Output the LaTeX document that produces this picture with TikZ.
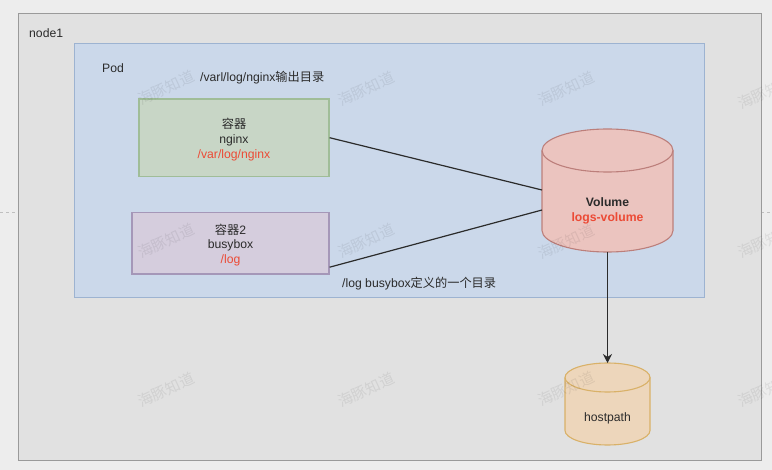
\documentclass[tikz,border=0pt]{standalone}
\usepackage{fontspec}
\setmainfont{Liberation Sans}
\newfontfamily\cjk{Noto Sans CJK SC}
\usepackage{xcolor}
\usetikzlibrary{shapes,shapes.geometric,arrows.meta}
\definecolor{pagebg}{HTML}{EDEDED}
\definecolor{nodefill}{HTML}{E1E1E1}
\definecolor{nodeline}{HTML}{9A9A9A}
\definecolor{podfill}{HTML}{CBD8EA}
\definecolor{podline}{HTML}{9DB3D1}
\definecolor{greenfill}{HTML}{C8D6C6}
\definecolor{greenline}{HTML}{A0BD98}
\definecolor{purplefill}{HTML}{D5CDDD}
\definecolor{purpleline}{HTML}{A597B8}
\definecolor{redfill}{HTML}{EBC4BF}
\definecolor{redline}{HTML}{BC7F7B}
\definecolor{orangefill}{HTML}{EDD6BB}
\definecolor{orangeline}{HTML}{D9B168}
\definecolor{pathred}{HTML}{EC4A35}
\definecolor{txt}{HTML}{2B2B2B}

\begin{document}
\begin{tikzpicture}[
	x=1pt, y=-1pt,
	txtfont/.style={font=\fontsize{12.2}{14.7}\selectfont, text=txt, inner sep=0, align=center},
	frame/.style={draw=#1, line width=1.4, anchor=north west, inner sep=0},
	textbox/.style={txtfont, draw=#1, line width=1.2},
	store/.style={draw=#1, line width=1.1},
	wmark/.style={font=\cjk\fontsize{15}{15}\selectfont, text=black, rotate=25, inner sep=0, opacity=0.07},
	margin/.style={draw=black!25, dashed, line width=0.8}
]
\fill[pagebg] (0,0) rectangle (772,470);
\useasboundingbox (0,0) rectangle (772,470);

\coordinate (dashl1) at (0,212);
\coordinate (dashl2) at (18,212);
\coordinate (dashr1) at (761,212);
\coordinate (dashr2) at (772,212);
\draw[margin] (dashl1) -- (dashl2);
\draw[margin] (dashr1) -- (dashr2);

\node[frame=nodeline, fill=nodefill, minimum width=743, minimum height=447] (node1) at (18,13) {};
\node[frame=podline, fill=podfill, minimum width=630, minimum height=254] (pod) at (74,43) {};

\node[txtfont, anchor=west] (node1txt) at (29,33) {node1};
\node[txtfont, anchor=west] (podtxt) at (102,68) {Pod};
\node[txtfont, anchor=west] (outtxt) at (200,78) {/varl/log/nginx{\cjk 输出目录}};
\node[txtfont, anchor=west] (logtxt) at (342,284) {/log busybox{\cjk 定义的一个目录}};

\node[textbox=greenline, fill=greenfill, minimum width=190, minimum height=77.3] (nginx) at (234,137.7)
	{\rule{0pt}{14pt}{\cjk 容器}\\nginx\\\textcolor{pathred}{/var/log/nginx}};
\node[textbox=purpleline, fill=purplefill, minimum width=197, minimum height=61.5] (busybox) at (230.5,243.2)
	{\rule{0pt}{14pt}{\cjk 容器}2\\busybox\\\textcolor{pathred}{/log}};

% cylinders
\draw[store=redline, fill=redfill] (542,150.5) -- (542,230.5) arc[start angle=180, end angle=0, x radius=65.5, y radius=21.5] -- (673,150.5) arc[start angle=0, end angle=-180, x radius=65.5, y radius=21.5] -- cycle;
\draw[store=redline] (542,150.5) arc[start angle=180, end angle=0, x radius=65.5, y radius=21.5];
\coordinate (volin1) at (542,190);
\coordinate (volin2) at (542,210);
\coordinate (volbot) at (607.5,252);
\node[txtfont, font=\fontsize{12.2}{15}\selectfont\bfseries] (volume) at (607.5,211) {Volume\\\textcolor{pathred}{logs-volume}};

\draw[store=orangeline, fill=orangefill] (565,377.5) -- (565,430.5) arc[start angle=180, end angle=0, x radius=42.5, y radius=14.5] -- (650,377.5) arc[start angle=0, end angle=-180, x radius=42.5, y radius=14.5] -- cycle;
\draw[store=orangeline] (565,377.5) arc[start angle=180, end angle=0, x radius=42.5, y radius=14.5];
\coordinate (hosttop) at (607.5,363);
\node[txtfont] (hostpath) at (607.5,418.5) {hostpath};

\foreach \mx/\my [count=\i] in {166/88,366/89,566/89,766/92,166/241,366/241,566/242,766/241,166/390,366/390,566/389,766/390}
	\node[wmark] (mark\i) at (\mx,\my) {海豚知道};

\draw[txt, line width=1.2] (nginx.east) -- (volin1);
\draw[txt, line width=1.2] ([yshift=-24]busybox.east) -- (volin2);
\draw[-{Stealth[length=9,width=9]}, txt, line width=1.2] (volbot) -- (hosttop);
\end{tikzpicture}
\end{document}
